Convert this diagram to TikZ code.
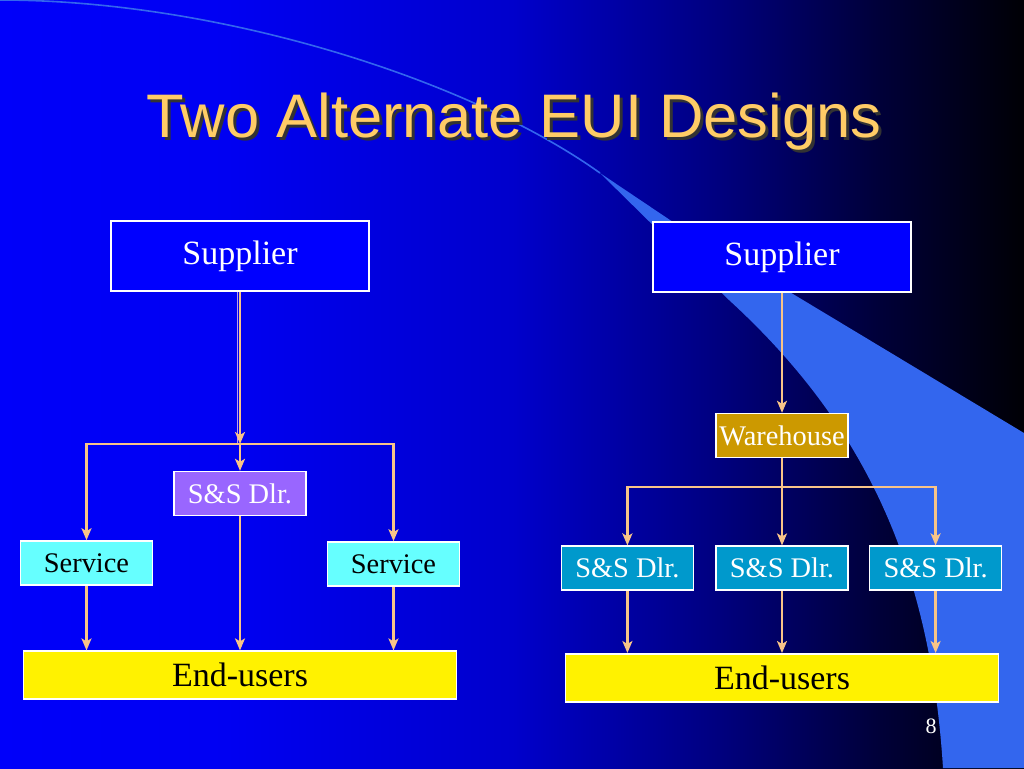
\documentclass[tikz,border=0pt]{standalone}
\usepackage{fontspec}
\setmainfont{Liberation Serif}
\newfontfamily\titlefont{Liberation Sans}
\usetikzlibrary{positioning,arrows.meta,calc}

\definecolor{supblue}{RGB}{0,0,255}
\definecolor{swoosh}{RGB}{51,102,238}
\definecolor{linktan}{RGB}{248,196,136}
\definecolor{lavline}{RGB}{190,160,225}
\definecolor{titlegold}{RGB}{255,204,102}
\definecolor{lavbox}{RGB}{153,102,255}
\definecolor{svcbox}{RGB}{102,255,255}
\definecolor{dlrbox}{RGB}{0,153,204}
\definecolor{whbox}{RGB}{204,153,0}

\pgfdeclarehorizontalshading{slidebg}{100bp}{rgb(0bp)=(0,0,0.98); rgb(25bp)=(0,0,0.98); rgb(36bp)=(0,0,0.95); rgb(50bp)=(0,0,0.80); rgb(60bp)=(0,0,0.50); rgb(68bp)=(0,0,0.22); rgb(75bp)=(0,0,0.02); rgb(100bp)=(0,0,0.02)}

\begin{document}
\begin{tikzpicture}[
    x=0.5pt, y=-0.5pt,
    topbox/.style={rectangle, draw=white, line width=0.8pt, fill=supblue, text=white, minimum width=129pt, minimum height=35pt, inner sep=0pt, font=\fontsize{17}{20}\selectfont},
    smallbox/.style={rectangle, draw=white, line width=0.8pt, minimum width=66pt, minimum height=22pt, inner sep=0pt, font=\fontsize{14.2}{17}\selectfont},
    endbox/.style={rectangle, draw=white, line width=0.8pt, fill=yellow, text=black, minimum width=216.5pt, minimum height=24pt, inner sep=0pt, font=\fontsize{17}{20}\selectfont},
    flow/.style={-{Stealth[length=6pt,width=5pt,inset=1.5pt]}, draw=linktan, line width=1.3pt},
    link/.style={draw=linktan, line width=1.3pt}
]
    % Slide background
    \useasboundingbox (0,0) rectangle (1024,768);
    \shade[shading=slidebg] (0,0) rectangle (1024,768);
    \draw[swoosh, line width=0.8pt] (0,0) .. controls (220,0) and (470,80) .. (600,173);
    \fill[swoosh] (600,173) -- (670,220) -- (1024,433) -- (1024,768) -- (943,768)
        .. controls (930,560) and (860,420) .. (729,300) -- cycle;

    % Title
    \node[text=black!80, font=\titlefont\fontsize{30.75}{34}\selectfont] (shadow) at (517,125) {Two Alternate EUI Designs};
    \node[text=titlegold, font=\titlefont\fontsize{30.75}{34}\selectfont] (title) at (514,122) {Two Alternate EUI Designs};

    % Left design
    \node[topbox] (supL) at (240,256) {Supplier};
    \node[smallbox, fill=lavbox, text=white, below=89.5pt of supL] (dlrL) {S\&S Dlr.};
    \node[smallbox, fill=svcbox, text=black] (svcL) at (86.5,563) {Service};
    \node[smallbox, fill=svcbox, text=black] (svcR) at (393.5,564) {Service};
    \node[endbox, below=67pt of dlrL] (endL) {End-users};
    \coordinate (lbar) at (240,444);

    % Right design
    \node[topbox] (supR) at (782,257) {Supplier};
    \node[smallbox, fill=whbox, text=white, below=60pt of supR] (wh) {Warehouse};
    \node[smallbox, fill=dlrbox, text=white, below=43.5pt of wh] (dlrB) {S\&S Dlr.};
    \node[smallbox, fill=dlrbox, text=white, left=10.5pt of dlrB] (dlrA) {S\&S Dlr.};
    \node[smallbox, fill=dlrbox, text=white, right=10pt of dlrB] (dlrC) {S\&S Dlr.};
    \node[endbox, below=31pt of dlrB] (endR) {End-users};
    \coordinate (rbar) at (782,487);

    % Arrows, left
    \draw[draw=lavline, line width=0.7pt, transform canvas={xshift=-1.3pt}] (supL) -- (lbar);
    \draw[flow] (supL) -- (lbar);
    \draw[flow] (lbar) -| (svcL);
    \draw[flow] (lbar) -| (svcR);
    \draw[flow] (lbar) -- (dlrL);
    \draw[flow] (svcL) -- (svcL |- endL.north);
    \draw[flow] (dlrL) -- (endL);
    \draw[flow] (svcR) -- (svcR |- endL.north);

    % Arrows, right
    \draw[flow] (supR) -- (wh);
    \draw[link] (wh) -- (rbar);
    \draw[flow] (rbar) -| (dlrA);
    \draw[flow] (rbar) -- (dlrB);
    \draw[flow] (rbar) -| (dlrC);
    \draw[flow] (dlrA) -- (dlrA |- endR.north);
    \draw[flow] (dlrB) -- (endR);
    \draw[flow] (dlrC) -- (dlrC |- endR.north);

    % Page number
    \node[text=white, font=\fontsize{11}{13}\selectfont] (page) at (931,726) {8};
\end{tikzpicture}
\end{document}
